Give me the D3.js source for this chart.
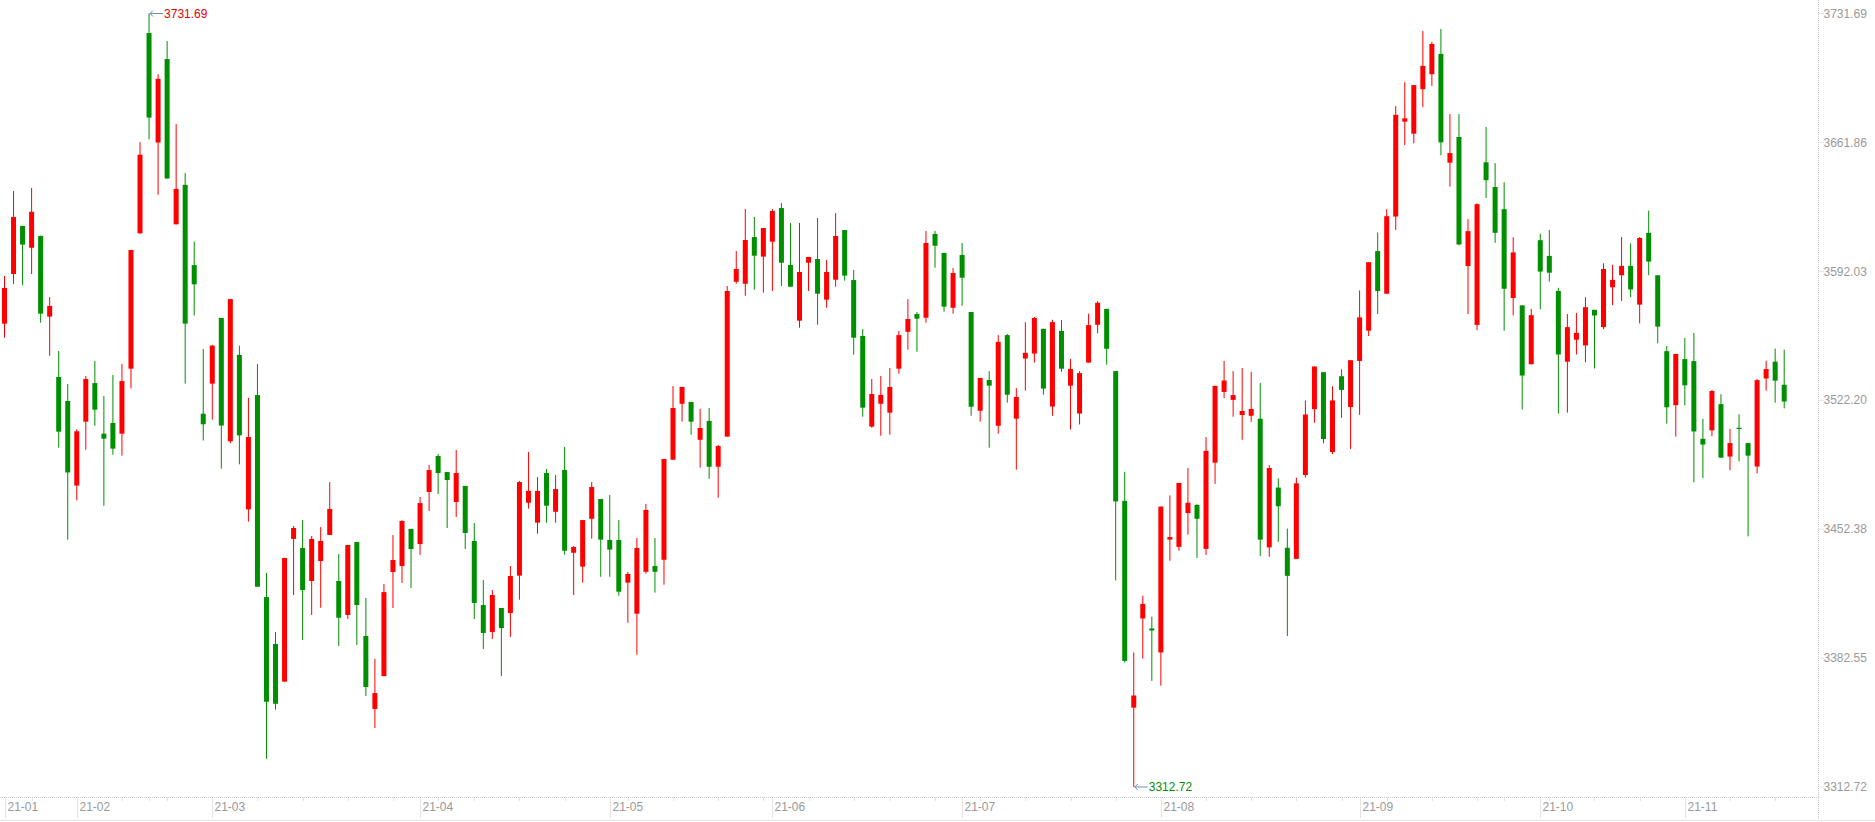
<!DOCTYPE html>
<html><head><meta charset="utf-8">
<script src="https://cdn.jsdelivr.net/npm/d3@7/dist/d3.min.js"></script>
<style>html,body{margin:0;padding:0;background:#fff;overflow:hidden}</style>
</head><body>
<svg id="c" width="1875" height="822"></svg>
<script>
const dates = [
"2021-01-20","2021-01-21","2021-01-22","2021-01-25","2021-01-26","2021-01-27","2021-01-28","2021-01-29",
"2021-02-01","2021-02-02","2021-02-03","2021-02-04","2021-02-05","2021-02-08","2021-02-09","2021-02-10","2021-02-18","2021-02-19","2021-02-22","2021-02-23","2021-02-24","2021-02-25","2021-02-26",
"2021-03-01","2021-03-02","2021-03-03","2021-03-04","2021-03-05","2021-03-08","2021-03-09","2021-03-10","2021-03-11","2021-03-12","2021-03-15","2021-03-16","2021-03-17","2021-03-18","2021-03-19","2021-03-22","2021-03-23","2021-03-24","2021-03-25","2021-03-26","2021-03-29","2021-03-30","2021-03-31",
"2021-04-01","2021-04-02","2021-04-06","2021-04-07","2021-04-08","2021-04-09","2021-04-12","2021-04-13","2021-04-14","2021-04-15","2021-04-16","2021-04-19","2021-04-20","2021-04-21","2021-04-22","2021-04-23","2021-04-26","2021-04-27","2021-04-28","2021-04-29","2021-04-30",
"2021-05-06","2021-05-07","2021-05-10","2021-05-11","2021-05-12","2021-05-13","2021-05-14","2021-05-17","2021-05-18","2021-05-19","2021-05-20","2021-05-21","2021-05-24","2021-05-25","2021-05-26","2021-05-27","2021-05-28","2021-05-31",
"2021-06-01","2021-06-02","2021-06-03","2021-06-04","2021-06-07","2021-06-08","2021-06-09","2021-06-10","2021-06-11","2021-06-15","2021-06-16","2021-06-17","2021-06-18","2021-06-21","2021-06-22","2021-06-23","2021-06-24","2021-06-25","2021-06-28","2021-06-29","2021-06-30",
"2021-07-01","2021-07-02","2021-07-05","2021-07-06","2021-07-07","2021-07-08","2021-07-09","2021-07-12","2021-07-13","2021-07-14","2021-07-15","2021-07-16","2021-07-19","2021-07-20","2021-07-21","2021-07-22","2021-07-23","2021-07-26","2021-07-27","2021-07-28","2021-07-29","2021-07-30",
"2021-08-02","2021-08-03","2021-08-04","2021-08-05","2021-08-06","2021-08-09","2021-08-10","2021-08-11","2021-08-12","2021-08-13","2021-08-16","2021-08-17","2021-08-18","2021-08-19","2021-08-20","2021-08-23","2021-08-24","2021-08-25","2021-08-26","2021-08-27","2021-08-30","2021-08-31",
"2021-09-01","2021-09-02","2021-09-03","2021-09-06","2021-09-07","2021-09-08","2021-09-09","2021-09-10","2021-09-13","2021-09-14","2021-09-15","2021-09-16","2021-09-17","2021-09-22","2021-09-23","2021-09-24","2021-09-27","2021-09-28","2021-09-29","2021-09-30",
"2021-10-08","2021-10-11","2021-10-12","2021-10-13","2021-10-14","2021-10-15","2021-10-18","2021-10-19","2021-10-20","2021-10-21","2021-10-22","2021-10-25","2021-10-26","2021-10-27","2021-10-28","2021-10-29",
"2021-11-01","2021-11-02","2021-11-03","2021-11-04","2021-11-05","2021-11-08","2021-11-09","2021-11-10","2021-11-11","2021-11-12","2021-11-15","2021-11-16"];

const open = [3563.7,3590.6,3616.6,3604.8,3611.2,3567.5,3534.8,3521.8,3476.0,3510.6,3531.5,3504.1,3509.9,3504.1,3539.3,3612.6,3721.1,3661.8,3707.0,3617.5,3638.9,3595.4,3514.9,
3531.2,3566.8,3500.0,3546.8,3463.1,3525.0,3415.6,3390.2,3369.8,3447.1,3442.2,3424.3,3435.1,3449.2,3424.3,3405.9,3445.4,3394.5,3355.0,3372.8,3429.2,3432.4,3452.5,
3444.3,3472.5,3492.0,3483.3,3467.1,3475.8,3446.0,3411.3,3396.7,3409.7,3407.0,3427.2,3466.7,3455.9,3482.8,3461.8,3484.4,3439.6,3432.1,3458.0,3468.7,
3446.5,3446.5,3423.4,3406.6,3429.3,3432.4,3435.8,3490.0,3520.3,3521.3,3500.8,3511.0,3486.2,3502.5,3586.4,3585.3,3610.6,3600.0,
3608.1,3626.3,3595.5,3565.3,3596.7,3598.7,3576.7,3587.5,3614.4,3587.3,3557.0,3507.9,3520.3,3515.5,3539.3,3559.3,3568.9,3566.9,3612.3,3602.0,3572.3,
3600.9,3570.0,3516.5,3533.2,3508.4,3557.5,3512.2,3544.8,3547.5,3560.9,3518.8,3559.8,3530.1,3515.0,3542.6,3563.1,3571.7,3538.0,3467.7,3355.7,3404.0,3398.6,
3385.6,3446.7,3442.8,3461.1,3465.5,3441.7,3488.4,3526.7,3522.4,3514.2,3513.8,3512.2,3442.5,3474.9,3442.3,3436.3,3481.7,3517.4,3537.4,3494.2,3535.2,3518.5,
3543.5,3559.9,3603.0,3579.9,3621.7,3673.1,3666.6,3690.7,3698.8,3709.8,3650.9,3664.8,3594.9,3563.0,3651.1,3637.7,3625.7,3577.6,3573.6,3541.7,
3608.9,3600.4,3581.4,3543.1,3555.0,3551.9,3571.2,3561.8,3583.4,3589.9,3595.0,3574.0,3612.9,3589.9,3548.8,3519.5,
3544.5,3543.4,3501.3,3505.9,3520.1,3491.7,3507.3,3499.0,3486.3,3534.0,3543.1,3530.6];

const high = [3589.5,3635.5,3616.8,3637.2,3611.4,3578.1,3548.9,3531.0,3506.5,3535.3,3543.5,3524.5,3535.9,3541.8,3603.6,3662.0,3731.69,3698.8,3716.8,3671.8,3645.3,3608.1,3550.0,
3552.2,3566.8,3577.0,3551.8,3523.5,3541.8,3428.7,3396.7,3436.8,3454.1,3457.3,3448.7,3453.5,3477.9,3438.9,3443.8,3445.4,3415.1,3382.1,3422.7,3449.2,3457.3,3452.5,
3469.8,3487.1,3493.1,3483.3,3495.3,3475.8,3455.7,3424.8,3419.4,3409.7,3432.4,3478.5,3494.2,3480.6,3485.0,3481.7,3496.9,3443.3,3457.3,3477.9,3468.7,
3470.9,3457.3,3429.2,3447.6,3466.0,3447.6,3490.4,3529.9,3529.4,3521.3,3517.5,3518.0,3498.0,3584.1,3603.0,3625.8,3621.5,3615.5,
3625.8,3629.0,3618.2,3618.2,3599.8,3620.9,3598.2,3623.6,3614.4,3592.8,3560.8,3533.7,3535.3,3539.7,3559.7,3577.0,3570.0,3613.9,3613.9,3602.0,3593.8,
3607.4,3570.0,3534.3,3538.0,3557.5,3558.1,3528.8,3564.5,3567.3,3560.9,3565.8,3565.6,3544.6,3538.0,3569.1,3575.9,3571.7,3538.0,3483.5,3385.6,3416.3,3405.0,
3464.6,3470.7,3477.4,3485.5,3466.1,3502.3,3530.0,3543.5,3538.0,3539.7,3537.6,3531.6,3487.1,3479.9,3452.7,3480.3,3522.1,3540.5,3537.4,3529.8,3539.0,3543.9,
3581.7,3597.0,3613.1,3625.7,3681.5,3694.5,3692.9,3722.2,3716.3,3723.3,3677.2,3677.2,3620.3,3628.9,3670.2,3650.7,3640.3,3610.5,3573.6,3571.7,
3612.4,3614.4,3583.1,3568.9,3569.5,3578.0,3571.2,3596.4,3595.6,3610.6,3607.2,3610.6,3624.9,3589.9,3551.6,3547.3,
3555.9,3558.7,3512.1,3527.8,3525.5,3506.7,3514.6,3499.0,3533.7,3543.6,3550.2,3549.6];

const low = [3556.1,3585.2,3584.6,3590.6,3564.2,3546.3,3496.5,3446.7,3468.0,3495.4,3508.4,3465.0,3492.7,3492.2,3528.6,3612.6,3663.5,3633.5,3642.3,3617.5,3531.2,3568.1,3500.4,
3511.7,3485.2,3498.9,3487.5,3456.5,3421.2,3328.0,3354.6,3369.8,3416.7,3392.3,3405.9,3409.8,3449.2,3389.1,3403.7,3389.6,3362.0,3344.7,3372.8,3409.7,3423.2,3420.5,
3438.4,3462.2,3471.4,3453.0,3459.0,3441.6,3403.7,3387.5,3392.9,3372.8,3394.0,3414.2,3463.5,3449.9,3455.9,3455.9,3438.5,3416.7,3423.4,3447.2,3426.6,
3426.6,3416.3,3401.7,3384.4,3428.3,3418.0,3422.3,3490.0,3510.6,3503.5,3485.7,3479.7,3469.4,3502.5,3585.3,3578.8,3582.1,3580.5,
3581.4,3584.1,3583.7,3561.5,3581.4,3563.1,3572.3,3583.7,3587.0,3546.9,3513.3,3507.3,3503.0,3503.5,3536.6,3549.6,3548.5,3564.2,3594.0,3570.2,3569.1,
3573.4,3513.8,3510.6,3496.5,3504.1,3520.9,3484.6,3527.4,3542.6,3525.2,3513.8,3537.6,3506.4,3509.1,3542.6,3558.5,3541.5,3424.6,3380.1,3312.72,3382.3,3370.2,
3367.6,3435.3,3440.7,3449.4,3436.8,3438.4,3476.9,3523.4,3513.3,3500.8,3510.5,3437.9,3437.4,3445.5,3394.5,3436.3,3480.3,3510.0,3498.9,3493.1,3512.7,3495.8,
3514.3,3557.0,3568.9,3579.9,3614.5,3660.4,3661.4,3681.0,3692.5,3654.9,3637.9,3606.2,3568.9,3560.1,3631.8,3607.5,3559.9,3568.2,3517.2,3541.7,
3571.5,3586.5,3515.0,3515.5,3547.0,3542.8,3539.4,3560.7,3573.7,3576.0,3578.0,3563.8,3589.9,3553.0,3509.6,3502.5,
3519.5,3477.8,3480.0,3502.7,3491.1,3484.3,3489.1,3448.5,3482.6,3527.4,3520.9,3517.8];

const close = [3583.0,3621.5,3606.5,3624.3,3569.1,3573.3,3505.2,3483.1,3505.4,3533.7,3517.1,3501.4,3496.0,3532.6,3603.6,3655.2,3675.3,3696.3,3642.3,3636.7,3563.7,3585.0,3509.2,
3551.8,3508.5,3577.0,3503.2,3502.3,3421.2,3358.9,3357.8,3436.8,3453.0,3419.4,3447.1,3446.0,3463.3,3404.4,3443.8,3411.3,3366.9,3363.6,3418.3,3435.7,3456.8,3441.6,
3466.5,3484.4,3482.8,3479.0,3482.8,3450.3,3412.4,3396.1,3416.7,3398.8,3427.0,3477.9,3473.1,3473.1,3465.1,3474.1,3440.7,3442.7,3457.3,3475.2,3446.7,
3441.3,3418.5,3428.1,3442.2,3462.8,3429.3,3490.4,3518.0,3529.4,3510.6,3507.2,3486.2,3497.4,3581.4,3593.3,3609.0,3600.5,3615.5,
3624.7,3596.7,3583.7,3591.7,3599.8,3579.9,3591.7,3611.2,3589.7,3556.1,3518.2,3525.6,3525.1,3529.4,3557.5,3566.2,3566.4,3607.4,3605.9,3572.9,3591.1,
3588.6,3518.7,3534.3,3530.1,3553.8,3525.2,3524.0,3547.9,3566.8,3528.5,3564.5,3539.3,3539.1,3536.9,3562.9,3575.0,3550.1,3467.4,3381.0,3362.3,3411.9,3397.5,
3464.6,3448.1,3477.4,3466.7,3458.0,3494.8,3530.0,3532.9,3525.0,3516.4,3517.5,3446.7,3485.5,3464.8,3427.1,3477.2,3514.5,3540.5,3501.2,3522.1,3527.8,3543.9,
3567.1,3597.0,3581.4,3621.9,3676.8,3674.9,3692.9,3703.3,3715.2,3661.9,3656.1,3606.6,3613.8,3628.4,3641.4,3612.9,3582.6,3602.3,3535.6,3568.3,
3591.9,3591.3,3547.0,3561.8,3558.7,3572.6,3568.1,3593.3,3587.4,3595.0,3582.2,3610.1,3597.3,3562.1,3518.4,3547.3,
3530.3,3505.3,3498.2,3527.2,3491.1,3499.0,3506.7,3492.2,3533.1,3539.1,3532.8,3521.5];

const yTicks = [3731.69, 3661.86, 3592.03, 3522.20, 3452.38, 3382.55, 3312.72];

const UP = "#ff0000", DOWN = "#008f00", AXIS = "#c8c8c8", TXT = "#999999";
const FONT = "Arial, 'Liberation Sans', sans-serif";
const n = dates.length;
const svg = d3.select("#c");

const x = d3.scaleLinear().domain([0, n - 1]).range([4.5, 4.5 + (n - 1) * 9.034]);
const y = d3.scaleLinear().domain([d3.min(low), d3.max(high)]).range([787, 13.5]);
const plotRight = 1818.5, axisY = 797.5;

// axes frame
svg.append("line").attr("x1", 0).attr("x2", plotRight).attr("y1", axisY).attr("y2", axisY)
  .attr("stroke", AXIS).attr("stroke-dasharray", "1,1");
svg.append("line").attr("x1", plotRight).attr("x2", plotRight).attr("y1", 0).attr("y2", 820)
  .attr("stroke", AXIS).attr("stroke-dasharray", "1,1");
svg.append("line").attr("x1", 0).attr("x2", 1875).attr("y1", 820.5).attr("y2", 820.5)
  .attr("stroke", "#e6e6e6");

// y ticks
const yg = svg.append("g");
yTicks.forEach(v => {
  yg.append("line").attr("x1", plotRight).attr("x2", plotRight + 5).attr("y1", y(v)).attr("y2", y(v))
    .attr("stroke", AXIS).attr("stroke-dasharray", "1,1");
  yg.append("text").attr("x", plotRight + 5).attr("y", y(v)).attr("dy", "0.35em")
    .attr("font-family", FONT).attr("font-size", 12).attr("fill", TXT).text(v.toFixed(2));
});

// x ticks: week starts and month starts
const parse = d3.timeParse("%Y-%m-%d");
const dd = dates.map(parse);
const xg = svg.append("g");
dd.forEach((d, i) => {
  const p = i > 0 ? dd[i - 1] : null;
  const monthStart = !p || d.getMonth() !== p.getMonth();
  const weekStart = !p || d.getDay() < p.getDay() || (d - p) / 864e5 >= 7;
  const xi = Math.round(x(i)) + 0.5;
  if (monthStart) {
    xg.append("line").attr("x1", xi).attr("x2", xi).attr("y1", axisY).attr("y2", 818)
      .attr("stroke", AXIS).attr("stroke-dasharray", "1,1");
    xg.append("text").attr("x", xi + 2).attr("y", 807).attr("dy", "0.35em")
      .attr("font-family", FONT).attr("font-size", 12).attr("fill", TXT)
      .text(d3.timeFormat("%y-%m")(d));
  } else if (weekStart) {
    xg.append("line").attr("x1", xi).attr("x2", xi).attr("y1", axisY).attr("y2", axisY + 4)
      .attr("stroke", AXIS).attr("stroke-dasharray", "1,1");
  }
});

// candles
const idx = d3.range(n);
const cg = svg.append("g");
const col = i => close[i] >= open[i] ? UP : DOWN;
cg.selectAll("rect.w").data(idx).join("rect").attr("class", "w")
  .attr("x", i => x(i) - 0.5).attr("width", 1)
  .attr("y", i => y(high[i])).attr("height", i => Math.max(1, y(low[i]) - y(high[i])))
  .attr("fill", col);
cg.selectAll("rect.b").data(idx).join("rect").attr("class", "b")
  .attr("x", i => x(i) - 2.5).attr("width", 5)
  .attr("y", i => y(Math.max(open[i], close[i])))
  .attr("height", i => Math.max(1.2, Math.abs(y(open[i]) - y(close[i]))))
  .attr("fill", col);

// high / low markers
function marker(i, v, color) {
  const x0 = x(i), y0 = y(v);
  const g = svg.append("g");
  g.append("path").attr("d", `M${x0 + 1},${y0}H${x0 + 14}M${x0 + 4},${y0 - 3}L${x0 + 1},${y0}L${x0 + 4},${y0 + 3}`)
    .attr("stroke", "#6f8fb0").attr("fill", "none").attr("stroke-width", 1);
  g.append("text").attr("x", x0 + 15).attr("y", y0).attr("dy", "0.35em")
    .attr("font-family", FONT).attr("font-size", 12).attr("fill", color).text(v.toFixed(2));
}
const hi = d3.maxIndex(high), lo = d3.minIndex(low);
marker(hi, high[hi], "#e60000");
marker(lo, low[lo], "#0a8a0a");
</script>
</body></html>
